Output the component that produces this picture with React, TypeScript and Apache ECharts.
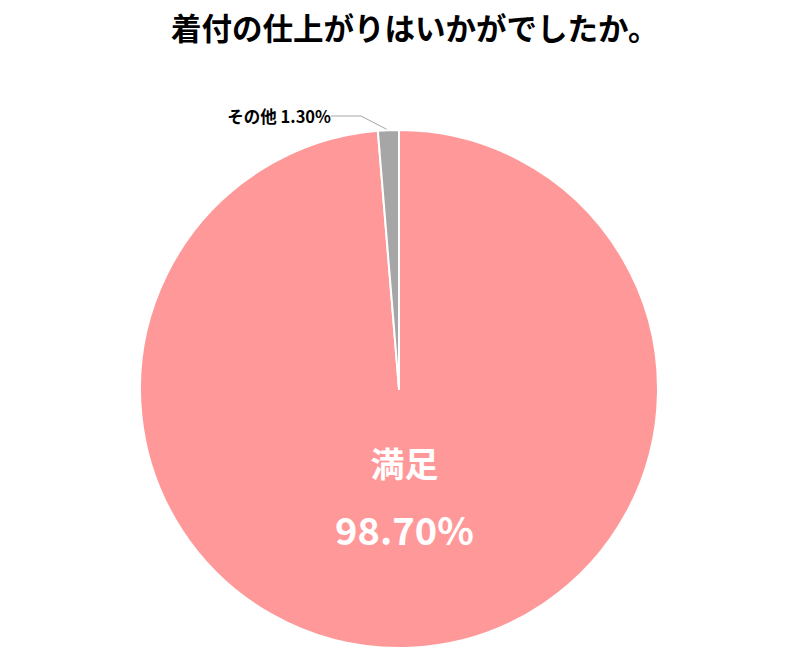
import React, { useEffect, useRef } from "react";
import * as echarts from "echarts";

const title = "着付の仕上がりはいかがでしたか。";
const categories = ["満足", "その他"];
const values = [98.7, 1.3];
const colors = ["#FF9999", "#A6A6A6"];

const FONT = '"Noto Sans CJK JP", "Noto Sans", sans-serif';

export default function App() {
  const ref = useRef<HTMLDivElement>(null);
  useEffect(() => {
    if (!ref.current) return;
    const chart = echarts.init(ref.current, undefined, { renderer: "svg" });
    chart.setOption({
      animation: false,
      backgroundColor: "#ffffff",
      title: {
        text: title,
        left: 171,
        top: 12,
        padding: 0,
        textStyle: { fontFamily: FONT, fontSize: 30.5, fontWeight: "bold", color: "#000" },
      },
      series: [
        {
          type: "pie",
          center: [399, 389],
          radius: 259,
          startAngle: 90,
          clockwise: true,
          itemStyle: { borderColor: "#ffffff", borderWidth: 2 },
          data: categories.map((c, i) => ({
            name: c,
            value: values[i],
            itemStyle: { color: colors[i] },
            label:
              i === 0
                ? {
                    show: true,
                    position: "inside",
                    offset: [0, -26],
                    formatter: (p: any) => `{n|${p.name}}\n{p|${p.percent.toFixed(2)}%}`,
                    rich: {
                      n: { fontFamily: FONT, fontSize: 34, fontWeight: "bold", color: "#fff", lineHeight: 66 },
                      p: { fontFamily: FONT, fontSize: 38, fontWeight: "bold", color: "#fff", lineHeight: 66 },
                    },
                  }
                : {
                    show: true,
                    position: "outside",
                    formatter: (p: any) => `${p.name} ${p.percent.toFixed(2)}%`,
                    fontFamily: FONT,
                    fontSize: 16.5,
                    fontWeight: "bold",
                    color: "#000",
                  },
            labelLine:
              i === 0
                ? { show: false }
                : { show: true, lineStyle: { color: "#A6A6A6", width: 1 } },
          })),
          labelLayout: (params: any) =>
            params.dataIndex === 1
              ? { x: 331, y: 116, align: "right", verticalAlign: "middle" }
              : {},
        },
      ],
    });
    return () => chart.dispose();
  }, []);
  return (
    <div
      ref={ref}
      style={{ position: "fixed", left: 0, top: 0, width: 797, height: 666 }}
    />
  );
}
